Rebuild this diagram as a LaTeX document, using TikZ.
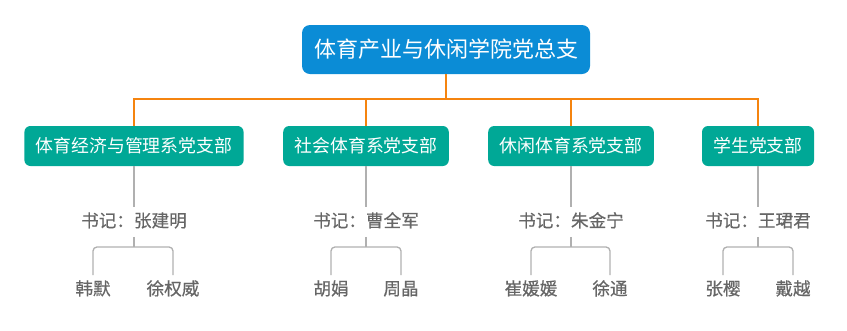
\documentclass[tikz,border=0pt]{standalone}
\usepackage{fontspec}
\setmainfont{Noto Sans CJK SC}
\newfontfamily\namefont[FakeBold=0.5]{Noto Sans CJK SC}
\usepackage{xcolor}
\usepackage{tikz}
\usetikzlibrary{positioning, calc}

\definecolor{rootblue}{HTML}{0B8CD6}
\definecolor{unitteal}{HTML}{00A896}
\definecolor{busorange}{HTML}{F5840F}
\definecolor{namegray}{HTML}{666666}
\definecolor{stemgray}{HTML}{B0B0B0}

\begin{document}
\begin{tikzpicture}[x=0.75pt, y=-0.75pt,
   rootbox/.style={fill=rootblue, text=white, rounded corners=6pt, minimum width=216pt,
      minimum height=36.75pt, font=\fontsize{16.5pt}{20pt}\selectfont},
   unitbox/.style={fill=unitteal, text=white, rounded corners=4.5pt, inner xsep=8.5pt,
      minimum height=30pt, font=\fontsize{13.4pt}{16pt}\selectfont},
   person/.style={text=namegray, inner xsep=2pt, inner ysep=6pt, text height=0.88em,
      text depth=0.12em, font=\namefont\fontsize{13.2pt}{16pt}\selectfont},
   busline/.style={draw=busorange, line width=1.5pt},
   stemline/.style={draw=stemgray, line width=1pt}]
\useasboundingbox (0,0) rectangle (847,330);

% Top of the tree
\node[rootbox] (root) at (446,49.5) {体育产业与休闲学院党总支};
\coordinate (bus) at (446,99);

% Branches with secretary and members
\foreach \i/\x/\unit/\head/\pa/\xa/\pb/\xb in {
   1/134/体育经济与管理系党支部/张建明/韩默/93/徐权威/173,
   2/366/社会体育系党支部/曹全军/胡娟/331/周晶/401,
   3/571/休闲体育系党支部/朱金宁/崔媛媛/531/徐通/610,
   4/758/学生党支部/王珺君/张樱/723/戴越/793} {
   \node[unitbox] (b\i) at (\x,146) {\unit};
   \node[person] (s\i) at (\x,222) {书记：\head};
   \coordinate (f\i) at (\x,247);
   \node[person] (p\i a) at (\xa,290) {\pa};
   \node[person] (p\i b) at (\xb,290) {\pb};
   \draw[stemline] (b\i) -- (s\i);
   \draw[stemline] (s\i) -- (f\i);
   \draw[stemline, rounded corners=3pt] (p\i a) |- (f\i) -| (p\i b);
}

% Orange links
\draw[busline] (root) -- (bus);
\draw[busline] (b1.north) |- (bus) -| (b4.north);
\draw[busline] (b2.north) -- (b2.north |- bus);
\draw[busline] (b3.north) -- (b3.north |- bus);
\end{tikzpicture}
\end{document}
